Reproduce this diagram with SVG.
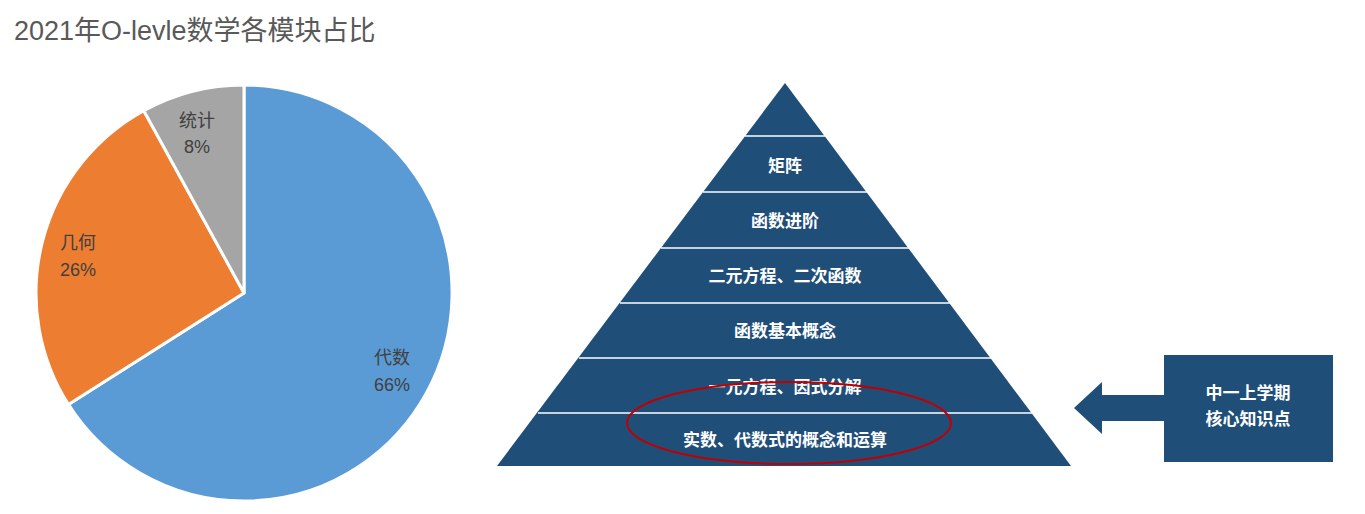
<svg xmlns="http://www.w3.org/2000/svg" width="1365" height="514" viewBox="0 0 1365 514">
<style>
.t{font-family:"Liberation Sans","Noto Sans CJK SC",sans-serif}
.pl{font-size:18px;fill:#404040;text-anchor:middle}
.py{font-size:17px;fill:#fff;font-weight:bold;text-anchor:middle}
.ln{stroke:#fff;stroke-width:1.5}
</style>
<rect width="1365" height="514" fill="#fff"/>
<text class="t" x="14" y="40" font-size="27" fill="#595959">2021年O-levle数学各模块占比</text>
<g id="pie" stroke="#fff" stroke-width="3" stroke-linejoin="round">
<path id="algebra" d="M244,293 L244,85 A208,208 0 1 1 68.4,404.4 Z" fill="#5B9BD5"/>
<path id="geometry" d="M244,293 L68.4,404.4 A208,208 0 0 1 143.8,110.7 Z" fill="#ED7D31"/>
<path id="stats" d="M244,293 L143.8,110.7 A208,208 0 0 1 244,85 Z" fill="#A5A5A5"/>
</g>
<g class="t">
<text class="pl" x="197" y="127">统计</text><text class="pl" x="197" y="153">8%</text>
<text class="pl" x="78" y="249">几何</text><text class="pl" x="78" y="276">26%</text>
<text class="pl" x="392" y="364">代数</text><text class="pl" x="392" y="391">66%</text>
</g>
<g id="pyramid">
<polygon points="785,83 1071,466 497,466" fill="#1F4E79"/>
<g class="ln">
<line x1="745" y1="136" x2="825" y2="136"/>
<line x1="703" y1="192" x2="867" y2="192"/>
<line x1="661" y1="248" x2="909" y2="248"/>
<line x1="620" y1="303" x2="950" y2="303"/>
<line x1="579" y1="358" x2="991" y2="358"/>
<line x1="538" y1="413" x2="1032" y2="413"/>
</g>
<g class="t">
<text class="py" x="785" y="172">矩阵</text>
<text class="py" x="785" y="227">函数进阶</text>
<text class="py" x="785" y="282">二元方程、二次函数</text>
<text class="py" x="785" y="337">函数基本概念</text>
<text class="py" x="785" y="393">一元方程、因式分解</text>
<text class="py" x="785" y="446">实数、代数式的概念和运算</text>
</g>
</g>
<g id="highlight"><ellipse cx="789" cy="423" rx="162" ry="41" fill="none" stroke="#C00000" stroke-width="2"/></g>
<g id="callout">
<rect x="1164" y="355" width="169" height="107" fill="#1F4E79"/>
<polygon points="1074,408 1102,382 1102,395 1164,395 1164,421 1102,421 1102,434" fill="#1F4E79"/>
<text class="t" x="1248" y="399" font-size="17" font-weight="bold" fill="#fff" text-anchor="middle">中一上学期</text>
<text class="t" x="1248" y="425" font-size="17" font-weight="bold" fill="#fff" text-anchor="middle">核心知识点</text>
</g>
</svg>
